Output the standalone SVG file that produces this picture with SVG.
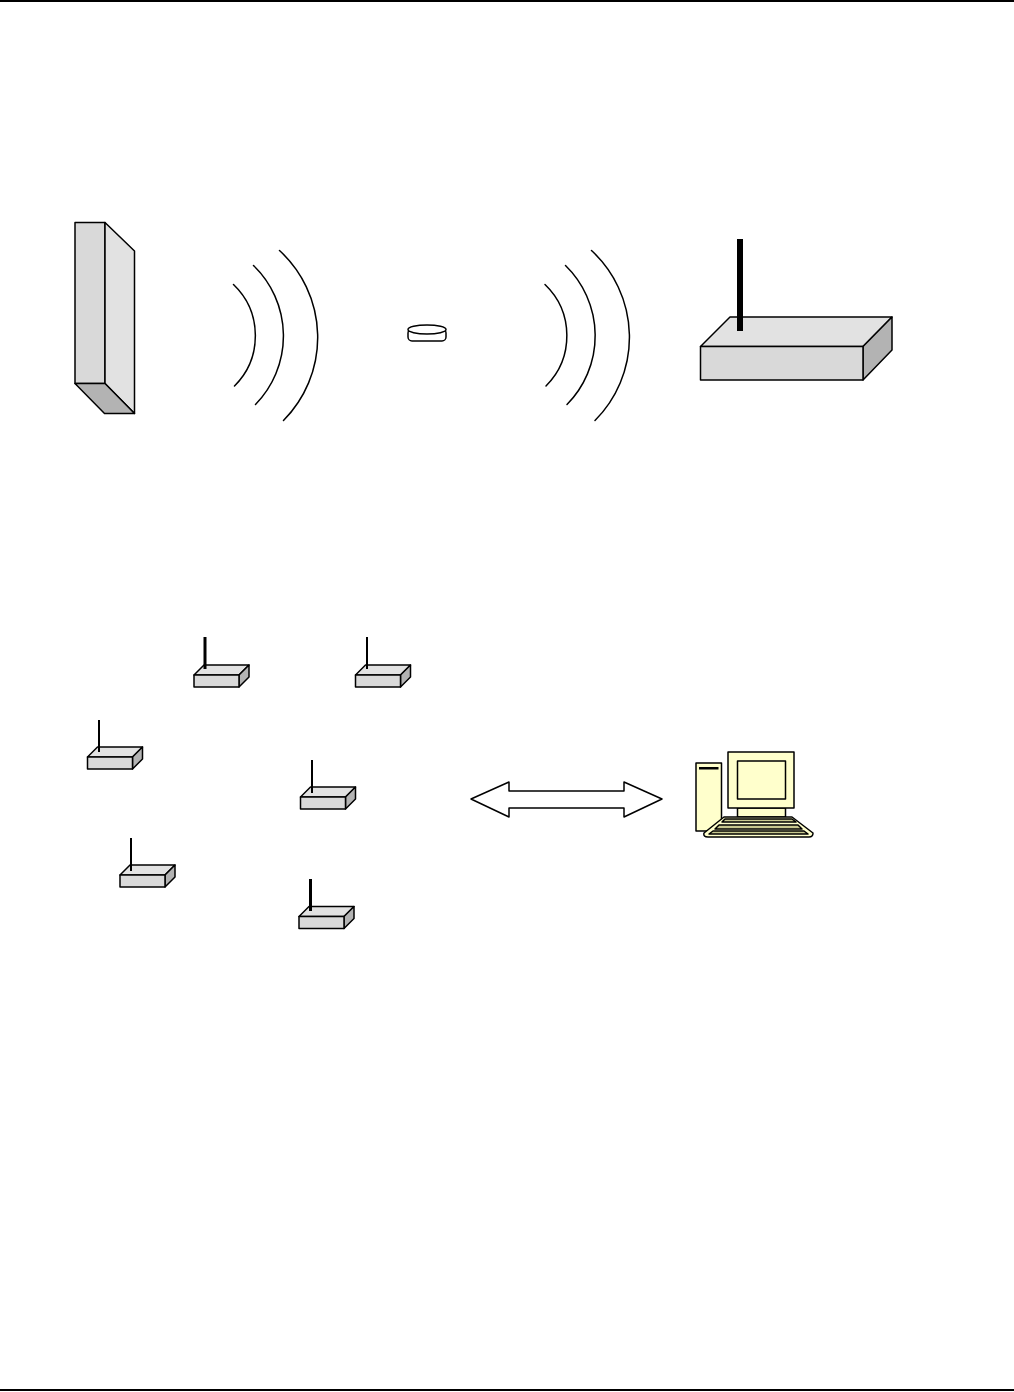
<svg xmlns="http://www.w3.org/2000/svg" width="1014" height="1392" viewBox="0 0 1014 1392">
<style>
.o{stroke:#000;stroke-width:1.5;stroke-linejoin:round;stroke-linecap:round}
.f{fill:#d9d9d9}.t{fill:#e2e2e2}.d{fill:#b3b3b3}
.a{fill:none;stroke:#000;stroke-width:1.5;stroke-linecap:round}
.y{fill:#ffffcc}.w{fill:#fff}
</style>
<defs>
<g id="small">
<path class="o t" d="M0 10L10 0H55L45 10Z"/>
<path class="o d" d="M45 10L55 0V12L45 22Z"/>
<rect class="o f" x="0" y="10" width="45" height="12"/>
</g>
</defs>
<rect width="1014" height="1392" fill="#fff"/>
<g id="page-lines">
<rect x="0" y="0" width="1014" height="2" fill="#000"/>
<rect x="0" y="1389" width="1014" height="2" fill="#000"/>
</g>
<g id="tag-reader">
<rect class="o f" x="75" y="222.500" width="30" height="161"/>
<path class="o t" d="M105 222.500L134.500 251V413.500L105 383.500Z"/>
<path class="o d" d="M75 383.500H105L134.500 413.500H104.500Z"/>
</g>
<g id="connectors">
<path class="a" d="M233.500 284.500A71 71 0 0 1 234.500 386"/>
<path class="a" d="M253.500 265.500A98 98 0 0 1 255.500 404.500"/>
<path class="a" d="M279.500 250.500A118 118 0 0 1 283.500 420.500"/>
<path class="a" d="M545 284.500A71 71 0 0 1 546 386"/>
<path class="a" d="M565.500 265.500A98 98 0 0 1 567 404.500"/>
<path class="a" d="M591.500 250.500A118 118 0 0 1 595 420.500"/>
</g>
<g id="tag">
<rect class="o w" x="408" y="329" width="38" height="12" rx="4"/>
<ellipse class="o w" cx="427" cy="329.500" rx="19" ry="4.500"/>
</g>
<g id="big-router">
<path class="o t" d="M700.500 346.500L730 317H892L863 346.500Z"/>
<path class="o d" d="M863 346.500L892 317V350L863 380Z"/>
<rect class="o f" x="700.500" y="346.500" width="162.500" height="33.500"/>
<rect x="737" y="239" width="6" height="92" fill="#000"/>
</g>
<g id="router-1"><use href="#small" x="194" y="665"/><rect x="203.500" y="637" width="3" height="32" fill="#000"/></g>
<g id="router-2"><use href="#small" x="355.500" y="665"/><rect x="366" y="637" width="2" height="32" fill="#000"/></g>
<g id="router-3"><use href="#small" x="87.500" y="747"/><rect x="98" y="720" width="2" height="32" fill="#000"/></g>
<g id="router-4"><use href="#small" x="300.500" y="787"/><rect x="311" y="760" width="2" height="33" fill="#000"/></g>
<g id="router-5"><use href="#small" x="120" y="865"/><rect x="130" y="838" width="2" height="33" fill="#000"/></g>
<g id="router-6"><use href="#small" x="299" y="906.500"/><rect x="309" y="879" width="3" height="32" fill="#000"/></g>
<g id="link-arrow">
<path class="o w" d="M471 799L509 782V791H624V782L662 799L624 817V808H509V817Z"/>
</g>
<g id="computer">
<rect class="o y" x="696" y="763" width="25.500" height="68"/>
<rect x="699" y="767" width="19.500" height="2.500" fill="#000"/>
<rect class="o y" x="737.500" y="808" width="48" height="9"/>
<rect class="o y" x="728" y="752" width="66" height="56"/>
<rect class="o y" x="737.500" y="761" width="48" height="38"/>
<path class="o y" d="M724 817H792L813 833Q813 837 809 837H708Q703 837 704 833Z"/>
<path class="o" fill="#c8c890" stroke-width="1" d="M725 819H792L796 822H722Z"/>
<path class="o" fill="#c8c890" d="M719 825H798L802 829H715Z"/>
<path class="o" fill="#c8c890" d="M713 831H804L808 834H709Z"/>
</g>
</svg>
